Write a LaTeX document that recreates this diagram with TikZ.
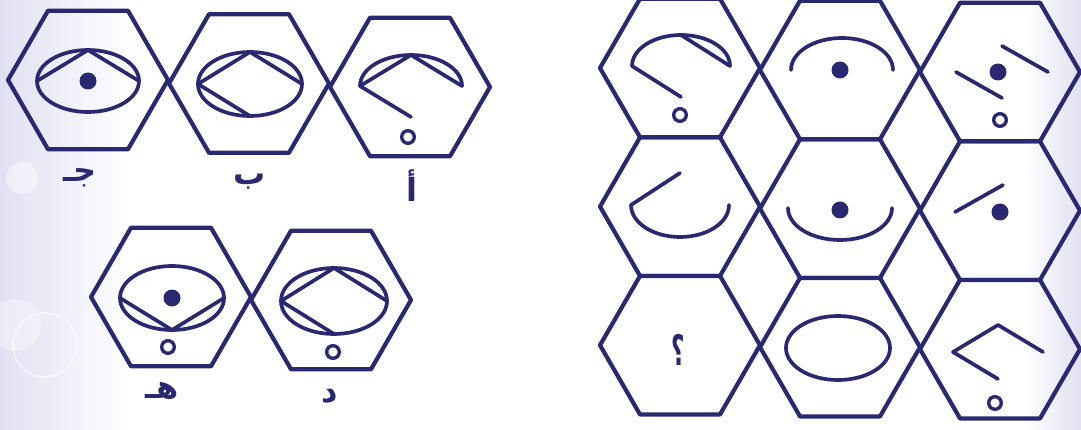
\documentclass[tikz,border=0pt]{standalone}
\usepackage{fontspec}
\newfontfamily\arabicfont[Script=Arabic]{DejaVu Sans}
\TeXXeTstate=1
\definecolor{ink}{RGB}{42,40,112}
\definecolor{lav}{RGB}{224,224,242}
\tikzset{
  hexline/.style={draw=ink, line width=4.2pt, line join=round},
  symline/.style={draw=ink, line width=3.7pt, line cap=round, line join=round},
  ringline/.style={draw=ink, line width=3.4pt},
  lbl/.style={text=ink, font=\arabicfont\bfseries\fontsize{32}{32}\selectfont, inner sep=0pt},
}
\newcommand\hexat[2]{\draw[hexline] (#1-80,#2) -- (#1-40,#2-69.28) -- (#1+40,#2-69.28) -- (#1+80,#2) -- (#1+40,#2+69.28) -- (#1-40,#2+69.28) -- cycle;}
\newcommand\ellpts[5]{%
  \coordinate (#1C) at (#2,#3);
  \coordinate (#1T) at (#2,#3-#5);
  \coordinate (#1B) at (#2,#3+#5);
  \coordinate (#1L) at (#2-#4,#3);
  \coordinate (#1R) at (#2+#4,#3);}
\begin{document}
\begin{tikzpicture}[x=1pt,y=-1pt]
\useasboundingbox (0,0) rectangle (1081,430);
% background
\fill[white] (0,0) rectangle (1081,430);
\shade[left color=lav, right color=white] (0,0) rectangle (130,430);
\shade[left color=white, right color=lav] (1025,0) rectangle (1081,430);
\fill[white, opacity=0.45] (22,178) circle[radius=16pt];
\fill[white, opacity=0.35] (15,325) circle[radius=26pt];
\draw[white, opacity=0.5, line width=2pt] (45,345) circle[radius=32pt];

% ===== left, top row =====
\hexat{88}{80}
\hexat{249}{83.5}
\hexat{410}{87}
% jeem
\ellpts{g}{88}{81}{51}{31}
\draw[symline] (gC) ellipse[x radius=51pt, y radius=31pt];
\draw[symline] (gL) -- (gT) -- (gR);
\fill[ink] (gC) circle[radius=8.5pt];
% baa
\ellpts{b}{250}{84}{52}{32}
\draw[symline] (bC) ellipse[x radius=52pt, y radius=32pt];
\draw[symline] (bR) -- (bT) -- (bL) -- (bB);
% alif
\ellpts{a}{411}{86}{51}{31}
\draw[symline] (aL) arc[start angle=180, end angle=0, x radius=51pt, y radius=31pt];
\draw[symline] (aR) -- (aT) -- (aL) -- (aB);
\draw[ringline] (408,137) circle[radius=6.3pt];
% labels
\node[lbl] (labJ) at (80,178) {\beginR جـ\endR};
\node[lbl] (labB) at (250,182) {\beginR ب\endR};
\node[lbl] (labA) at (412,186) {\beginR أ\endR};

% ===== left, bottom row =====
\hexat{171}{297}
\hexat{331}{300}
% haa
\ellpts{h}{172}{298}{52}{32}
\draw[symline] (hC) ellipse[x radius=52pt, y radius=32pt];
\draw[symline] (hL) -- (hB) -- (hR);
\fill[ink] (hC) circle[radius=8.5pt];
\draw[ringline] (168,347) circle[radius=6.3pt];
% dal
\ellpts{d}{334}{301}{53}{33}
\draw[symline] (dC) ellipse[x radius=53pt, y radius=33pt];
\draw[symline] (dR) -- (dT) -- (dL) -- (dB);
\draw[ringline] (333,352) circle[radius=6.3pt];
\node[lbl] (labH) at (162,391) {\beginR هـ\endR};
\node[lbl] (labD) at (330,396) {\beginR د\endR};

% ===== right grid =====
\hexat{680}{68}
\hexat{680}{206.6}
\hexat{680}{345.2}
\hexat{840}{70}
\hexat{840}{208.6}
\hexat{840}{347.2}
\hexat{1000}{72}
\hexat{1000}{210.6}
\hexat{1000}{349.2}
% (1,1)
\ellpts{p}{681}{66}{49}{31}
\draw[symline] (pL) arc[start angle=180, end angle=0, x radius=49pt, y radius=31pt];
\draw[symline] (pT) -- (pR);
\draw[symline] (pL) -- (pB);
\draw[ringline] (680,115) circle[radius=6.3pt];
% (1,2)
\ellpts{q}{842}{70}{51}{32}
\draw[symline] (qL) arc[start angle=180, end angle=0, x radius=51pt, y radius=32pt];
\fill[ink] (840,70) circle[radius=8.5pt];
% (1,3)
\ellpts{r}{1002}{72}{46}{26}
\draw[symline] (rT) -- (rR);
\draw[symline] (rL) -- (rB);
\fill[ink] (998,72) circle[radius=8.5pt];
\draw[ringline] (1000,120) circle[radius=6.3pt];
% (2,1)
\ellpts{s}{680}{205}{49}{32}
\draw[symline] (sL) arc[start angle=180, end angle=360, x radius=49pt, y radius=32pt];
\draw[symline] (sL) -- (sT);
% (2,2)
\ellpts{t}{840}{208}{52}{32}
\draw[symline] (tL) arc[start angle=180, end angle=360, x radius=52pt, y radius=32pt];
\fill[ink] (840,210) circle[radius=8.5pt];
% (2,3)
\ellpts{u}{1003}{212}{48}{27}
\draw[symline] (uL) -- (uT);
\fill[ink] (1000,212) circle[radius=8.5pt];
% (3,1)
\node[text=ink, font=\arabicfont\bfseries\fontsize{42}{42}\selectfont, inner sep=0pt, xscale=0.55] (qm) at (678,350) {؟};
% (3,2)
\ellpts{v}{838}{348}{52}{32}
\draw[symline] (vC) ellipse[x radius=52pt, y radius=32pt];
% (3,3)
\ellpts{w}{998}{352}{45}{27}
\draw[symline] (wR) -- (wT) -- (wL) -- (wB);
\draw[ringline] (995,403) circle[radius=6.3pt];
\end{tikzpicture}
\end{document}
